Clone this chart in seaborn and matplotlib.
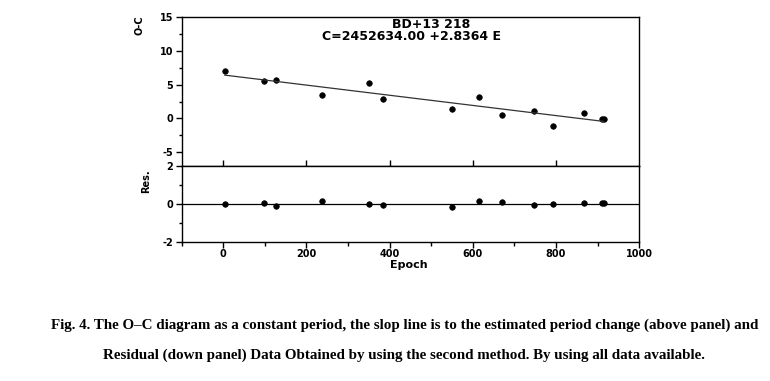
import matplotlib
matplotlib.use("Agg")
import matplotlib.pyplot as plt
import seaborn as sns
import pandas as pd
from matplotlib.ticker import MultipleLocator, FixedLocator, NullFormatter

# ---- data ----
epoch = [3, 99, 127, 238, 350, 385, 550, 616, 671, 748, 792, 868, 910, 915]
oc = [7.1, 5.6, 5.7, 3.4, 5.2, 2.9, 1.37, 3.2, 0.53, 1.17, -1.13, 0.83, -0.05, -0.05]
res = [0.0, 0.03, -0.09, 0.17, 0.0, -0.03, -0.14, 0.17, 0.09, -0.05, 0.02, 0.07, 0.05, 0.05]
fit_x = [3, 915]
fit_y = [6.42, -0.44]
title_lines = ["BD+13 218", "C=2452634.00 +2.8364 E"]
caption = ["Fig. 4. The O\u2013C diagram as a constant period, the slop line is to the estimated period change (above panel) and",
           "Residual (down panel) Data Obtained by using the second method. By using all data available."]

sns.set_theme(style="ticks")
plt.rcParams['font.family'] = ['DejaVu Sans']
plt.rcParams['axes.unicode_minus'] = False
plt.rcParams['text.color'] = 'black'
plt.rcParams['axes.labelcolor'] = 'black'
plt.rcParams['xtick.color'] = 'black'
plt.rcParams['ytick.color'] = 'black'
plt.rcParams['xtick.labelcolor'] = 'black'
plt.rcParams['ytick.labelcolor'] = 'black'

df = pd.DataFrame({"Epoch": epoch, "OC": oc, "Res": res})
fit = pd.DataFrame({"x": fit_x, "y": fit_y})

fig = plt.figure(figsize=(7.7, 3.81), dpi=100)
ax1 = fig.add_axes([0.236, 0.565, 0.594, 0.390])
ax2 = fig.add_axes([0.236, 0.364, 0.594, 0.201])

sns.lineplot(data=fit, x="x", y="y", ax=ax1, color="#333333", lw=0.9)
sns.scatterplot(data=df, x="Epoch", y="OC", ax=ax1, color="black", s=16, edgecolor="black", linewidth=0.5)
sns.scatterplot(data=df, x="Epoch", y="Res", ax=ax2, color="black", s=16, edgecolor="black", linewidth=0.5)
ax2.axhline(0, color="black", lw=0.9)

for ax in (ax1, ax2):
    ax.set_xlim(-100, 1000)
    for sp in ax.spines.values():
        sp.set_visible(True)
        sp.set_color("black")
        sp.set_linewidth(1.0)
    ax.set_xlabel("")
    ax.set_ylabel("")

ax1.set_ylim(-7, 15)
ax1.yaxis.set_major_locator(FixedLocator([-5, 0, 5, 10, 15]))
ax1.yaxis.set_minor_locator(MultipleLocator(2.5))
ax1.xaxis.set_major_locator(FixedLocator([0, 400, 800]))
ax1.xaxis.set_minor_locator(FixedLocator([200, 600]))
ax1.xaxis.set_major_formatter(NullFormatter())
ax1.tick_params(axis="x", which="major", direction="inout", length=8, width=1)
ax1.tick_params(axis="x", which="minor", direction="in", length=4, width=1)
ax1.tick_params(axis="y", which="major", direction="out", length=4, width=1, labelsize=7, pad=2)
ax1.tick_params(axis="y", which="minor", direction="out", length=2.5, width=1)

ax2.set_ylim(-2, 2)
ax2.yaxis.set_major_locator(FixedLocator([-2, 0, 2]))
ax2.yaxis.set_minor_locator(FixedLocator([-1, 1]))
ax2.xaxis.set_major_locator(MultipleLocator(200))
ax2.xaxis.set_minor_locator(MultipleLocator(100))
ax2.tick_params(axis="x", which="major", direction="out", length=4, width=1, labelsize=7, pad=1)
ax2.tick_params(axis="x", which="minor", direction="out", length=3, width=1)
ax2.tick_params(axis="y", which="major", direction="out", length=4, width=1, labelsize=7, pad=2)
ax2.tick_params(axis="y", which="minor", direction="out", length=2.5, width=1)
for lab in ax1.get_yticklabels() + ax2.get_yticklabels() + ax2.get_xticklabels():
    lab.set_fontweight("bold")

fig.text(0.531, 1 - 265 / 381, "Epoch", fontsize=8, fontweight="bold", ha="center", va="center")
fig.text(0.181, 0.935, "O-C", rotation=90, fontsize=7, fontweight="bold", ha="center", va="center")
fig.text(0.190, 0.525, "Res.", rotation=90, fontsize=7, fontweight="bold", ha="center", va="center")

fig.text(431 / 770, 1 - 25 / 381, title_lines[0], ha="center", va="center", fontsize=9, fontweight="bold")
fig.text(411 / 770, 1 - 37 / 381, title_lines[1], ha="center", va="center", fontsize=9, fontweight="bold")

fig.text(0.525, 1 - 325 / 381, caption[0], ha="center", va="center", fontsize=10.85, fontweight="bold",
         family=["Liberation Serif", "DejaVu Serif"])
fig.text(0.525, 1 - 355 / 381, caption[1], ha="center", va="center", fontsize=10.85, fontweight="bold",
         family=["Liberation Serif", "DejaVu Serif"])

fig.savefig("out.png", dpi=100)
